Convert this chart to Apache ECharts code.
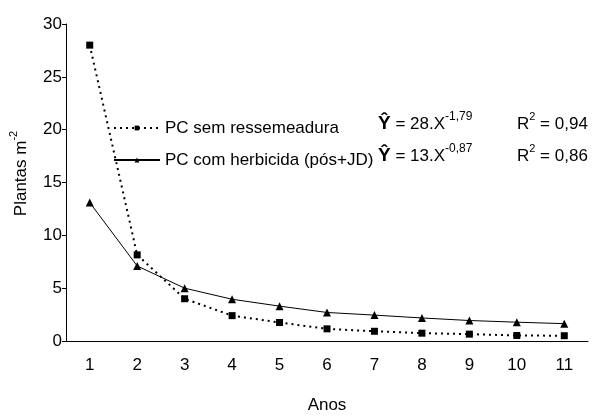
<!DOCTYPE html>
<html>
<head>
<meta charset="utf-8">
<script src="https://cdn.jsdelivr.net/npm/echarts@6/dist/echarts.min.js"></script>
<style>
  html, body { margin: 0; padding: 0; background: #fff; }
  #chart { width: 601px; height: 419px; }
</style>
</head>
<body>
<div id="chart"></div>
<script>
// dados
var anos = ['1', '2', '3', '4', '5', '6', '7', '8', '9', '10', '11'];
var semRessemeadura = [28.0, 8.15, 4.0, 2.4, 1.75, 1.15, 0.92, 0.74, 0.65, 0.52, 0.5];
var comHerbicida = [13.1, 7.1, 5.0, 3.95, 3.3, 2.7, 2.45, 2.18, 1.94, 1.78, 1.64];
var nomes = ['PC sem ressemeadura', 'PC com herbicida (pós+JD)'];
var equacoes = [['28.X', '-1,79', '0,94'], ['13.X', '-0,87', '0,86']];
var yTicks = { min: 0, max: 30, interval: 5 };

var fonte = 'Liberation Sans, Arial, sans-serif';
var myChart = echarts.init(document.getElementById('chart'));

function equacao(e, y) {
    return [
        {
            type: 'text', left: 378, top: y,
            style: {
                text: '{h|Ŷ}{t| = ' + e[0] + '}{s|' + e[1] + '}',
                rich: {
                    h: { fontSize: 19, fontWeight: 'bold', fontFamily: fonte, fill: '#000', verticalAlign: 'bottom', lineHeight: 22 },
                    t: { fontSize: 17, fontFamily: fonte, fill: '#000', verticalAlign: 'bottom', lineHeight: 22 },
                    s: { fontSize: 12, fontFamily: fonte, fill: '#000', verticalAlign: 'top', lineHeight: 22 }
                }
            }
        },
        {
            type: 'text', left: 517, top: y,
            style: {
                text: '{t|R}{s|2}{t| = ' + e[2] + '}',
                rich: {
                    t: { fontSize: 17, fontFamily: fonte, fill: '#000', verticalAlign: 'bottom', lineHeight: 22 },
                    s: { fontSize: 11, fontFamily: fonte, fill: '#000', verticalAlign: 'top', lineHeight: 22 }
                }
            }
        }
    ];
}

var option = {
    animation: false,
    backgroundColor: '#fff',
    grid: { left: 60, right: 13, top: 24, bottom: 62 },
    legend: {
        orient: 'vertical',
        left: 108,
        top: 114,
        itemWidth: 46,
        itemHeight: 6,
        itemGap: 14,
        data: nomes,
        textStyle: { fontSize: 17, fontFamily: fonte, color: '#000', lineHeight: 18 }
    },
    graphic: equacao(equacoes[0], 111).concat(equacao(equacoes[1], 143)),
    xAxis: {
        type: 'category',
        data: anos,
        boundaryGap: true,
        name: 'Anos',
        nameLocation: 'middle',
        nameGap: 56,
        nameTextStyle: { fontSize: 17, fontFamily: fonte, color: '#000' },
        axisLine: { lineStyle: { color: '#000', width: 1 } },
        axisTick: { length: 5, lineStyle: { color: '#000' }, interval: 0 },
        axisLabel: { fontSize: 17, fontFamily: fonte, color: '#000', margin: 16, interval: 0 },
        splitLine: { show: false }
    },
    yAxis: {
        type: 'value',
        min: yTicks.min,
        max: yTicks.max,
        interval: yTicks.interval,
        name: '{a|Plantas m}{b|-2}',
        nameLocation: 'middle',
        nameGap: 36,
        nameTextStyle: {
            padding: [0, 0, 0, 18],
            rich: {
                a: { fontSize: 17, fontFamily: fonte, color: '#000', verticalAlign: 'bottom', lineHeight: 22 },
                b: { fontSize: 11, fontFamily: fonte, color: '#000', verticalAlign: 'top', lineHeight: 22 }
            }
        },
        axisLine: { show: true, lineStyle: { color: '#000', width: 1 } },
        axisTick: { show: true, length: 4, lineStyle: { color: '#000' } },
        axisLabel: { fontSize: 17, fontFamily: fonte, color: '#000', margin: 4 },
        splitLine: { show: false }
    },
    series: [
        {
            name: nomes[0],
            type: 'line',
            data: semRessemeadura,
            symbol: 'rect',
            symbolSize: 7,
            itemStyle: { color: '#000' },
            lineStyle: { color: '#000', width: 2, type: [2, 4] }
        },
        {
            name: nomes[1],
            type: 'line',
            data: comHerbicida,
            symbol: 'triangle',
            symbolSize: 8,
            itemStyle: { color: '#000' },
            lineStyle: { color: '#000', width: 1, type: 'solid' }
        }
    ]
};
myChart.setOption(option);
</script>
</body>
</html>
